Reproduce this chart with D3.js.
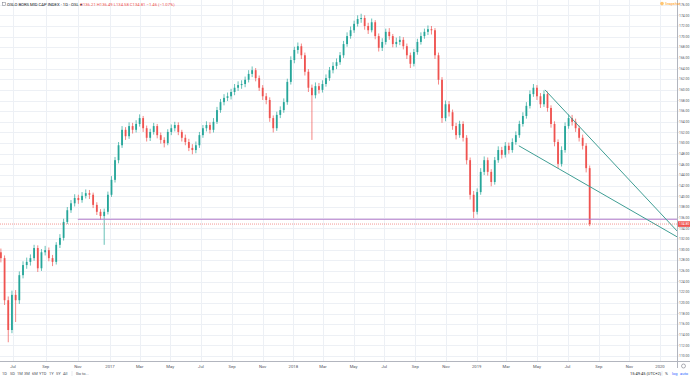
<!DOCTYPE html>
<html lang="en">
<head>
  <meta charset="UTF-8">
  <title>Oslo Bors Mid Cap Index - 1D</title>
  <style>
    html, body { margin: 0; padding: 0; background: #fff; overflow: hidden; }
    svg { display: block; font-family: Roboto, "Open Sans", sans-serif; }
  </style>
</head>
<body>
  <script src="https://d3js.org/d3.v7.min.js"></script>
  <script>
    const SVGWIDTH = 690;
    const SVGHEIGHT = 377;
    const PANE_RIGHT = 677;   // price axis starts here
    const PANE_BOTTOM = 361;  // time axis starts here
    const UP = '#26a69a';
    const DOWN = '#ef5350';

    // weekly bars, Monday of first and last week
    const firstWeek = '2016-06-06';
    const lastWeek = '2019-08-12';
    const firstOpen = 129.5;

    const closes = [
      128.4, 120.5, 114.9, 121.5, 120.5, 125.2, 127.1, 127.7, 128.4, 130.3,
      126.5, 129.5, 129.9, 128.4, 127.7, 130.9, 132.2, 135.2, 137.4, 138.7,
      139.7, 139.3, 140.1, 140.6, 140.3, 138.4, 137.1, 136.3, 137.1, 140.3,
      143.1, 146.8, 149.6, 152.5, 151.3, 153.2, 152.5, 153.6, 154.7, 152.8,
      151.0, 152.1, 153.2, 151.5, 150.6, 150.0, 152.1, 152.8, 153.4, 152.1,
      151.0, 150.2, 149.1, 148.7, 149.6, 151.5, 152.8, 153.4, 152.5, 154.0,
      156.2, 157.7, 158.5, 158.8, 159.6, 160.4, 160.9, 161.1, 161.9, 163.0,
      163.7, 162.2, 160.4, 158.8, 158.1, 154.7, 152.8, 155.3, 156.2, 157.7,
      161.5, 165.6, 167.5, 168.2, 166.5, 163.4, 160.4, 159.0, 160.7, 160.0,
      161.1, 162.2, 163.7, 164.5, 165.2, 166.5, 168.6, 170.1, 171.2, 172.4,
      173.3, 173.5, 172.0, 171.2, 172.7, 170.1, 167.9, 169.0, 170.9, 170.1,
      168.6, 169.0, 169.4, 168.2, 166.5, 164.9, 167.1, 169.0, 170.1, 170.9,
      171.4, 171.2, 166.5, 161.9, 154.7, 157.3, 155.8, 153.2, 151.5, 153.6,
      151.0, 146.8, 140.3, 137.1, 140.8, 144.6, 146.8, 144.6, 142.7, 146.8,
      148.7, 147.8, 149.5, 148.7, 150.2, 151.5, 153.6, 155.1, 157.0, 159.2,
      160.4, 158.8, 157.3, 159.2, 156.6, 153.6, 150.2, 146.1, 148.7, 153.2,
      154.7, 154.0, 152.8, 151.0, 149.5, 145.3, 134.8
    ];
    const highs = [
      130.2, 128.9, 121.2, 122.3, 122.4, 125.9, 127.8, 128.5, 129.1, 130.9,
      130.8, 130.1, 130.7, 130.4, 129.0, 131.4, 132.9, 135.8, 138.0, 139.3,
      140.4, 140.3, 140.8, 141.3, 141.2, 140.7, 138.9, 137.6, 137.7, 140.9,
      143.8, 147.4, 150.2, 153.2, 153.0, 153.9, 153.8, 154.3, 155.4, 155.1,
      153.3, 152.7, 153.8, 153.6, 152.0, 151.1, 152.6, 153.5, 154.0, 153.9,
      152.5, 151.6, 150.8, 149.8, 150.3, 152.1, 153.4, 154.1, 153.9, 154.7,
      156.8, 158.3, 159.2, 159.5, 160.2, 161.1, 161.6, 161.8, 162.5, 163.7,
      164.4, 164.1, 162.7, 160.9, 159.4, 158.6, 155.2, 155.9, 156.9, 158.4,
      162.1, 166.3, 168.1, 168.9, 168.7, 167.0, 163.9, 161.0, 161.4, 161.3,
      161.8, 162.9, 164.3, 165.2, 165.9, 167.1, 169.2, 170.8, 171.9, 173.0,
      174.0, 174.3, 174.0, 172.6, 173.4, 173.1, 170.6, 169.7, 171.5, 171.6,
      170.5, 169.8, 170.1, 169.9, 168.7, 167.0, 167.7, 169.6, 170.8, 171.5,
      172.1, 172.0, 171.6, 167.0, 162.4, 158.0, 157.9, 156.3, 153.8, 154.2,
      154.1, 151.5, 147.3, 141.0, 141.5, 145.3, 147.5, 147.3, 145.1, 147.4,
      149.4, 149.3, 150.2, 150.1, 150.9, 152.2, 154.2, 155.8, 157.7, 159.9,
      161.1, 160.9, 159.4, 159.9, 159.7, 157.1, 154.1, 150.7, 149.4, 153.9,
      155.4, 155.3, 154.6, 153.3, 151.6, 150.0, 145.8
    ];
    const lows = [
      127.6, 119.6, 112.6, 114.3, 116.4, 119.8, 124.6, 126.4, 127.0, 127.9,
      125.8, 126.0, 128.9, 127.8, 126.9, 127.2, 130.3, 131.7, 134.8, 136.9,
      138.1, 138.6, 138.8, 139.6, 139.5, 137.8, 136.5, 135.6, 130.9, 136.6,
      139.9, 142.6, 146.2, 149.1, 150.6, 150.8, 151.8, 152.0, 153.1, 152.1,
      150.3, 150.4, 151.6, 150.9, 149.9, 149.2, 149.6, 151.5, 152.2, 151.5,
      150.3, 149.6, 148.5, 147.9, 148.1, 149.1, 151.0, 152.2, 151.8, 152.0,
      153.6, 155.7, 157.1, 157.9, 158.2, 159.0, 159.8, 160.2, 160.5, 161.4,
      162.4, 161.6, 159.8, 158.1, 157.3, 154.0, 152.0, 152.3, 154.7, 155.7,
      157.2, 161.0, 165.0, 166.8, 165.8, 162.7, 159.6, 150.6, 158.4, 159.3,
      159.5, 160.6, 161.7, 163.1, 163.9, 164.7, 166.0, 168.1, 169.6, 170.7,
      171.9, 172.6, 171.3, 170.5, 170.8, 169.5, 167.2, 167.3, 168.5, 169.4,
      168.0, 168.0, 168.4, 167.6, 165.8, 164.1, 164.4, 166.6, 168.5, 169.6,
      170.3, 170.4, 165.8, 161.0, 153.8, 154.1, 155.0, 152.5, 150.7, 151.0,
      150.3, 146.0, 139.4, 135.9, 136.6, 140.3, 144.0, 143.9, 141.9, 142.2,
      146.3, 147.1, 147.3, 148.0, 148.2, 149.7, 151.0, 153.1, 154.6, 156.5,
      158.7, 158.1, 156.6, 156.8, 155.9, 152.9, 149.4, 145.3, 145.6, 148.2,
      152.7, 153.3, 152.1, 150.3, 148.8, 144.5, 134.4
    ];

    // drawings on the chart
    const supportLevel = 135.7;
    const supportFrom = '2016-11-01';
    const trendUpper = [['2019-05-17', 160.0], ['2020-02-04', 133.5]];
    const trendLower = [['2019-03-26', 149.5], ['2020-02-04', 132.4]];

    // axis ticks
    const yTicks = d3.range(110, 177, 2);
    const xTickStart = '2016-07-01';
    const xTickEnd = '2020-01-01';

    const headerTitle = 'OSLO BORS MID CAP INDEX · 1D · OSL ▾';
    const headerOHLC = 'O136.21 H136.49 L134.58 C134.81 −1.46 (−1.07%)';
    const rangeButtons = ['1D', '5D', '1M', '3M', '6M', 'YTD', '1Y', '5Y', 'All'];

    const parse = d3.timeParse('%Y-%m-%d');
    const weeks = d3.timeMonday.range(parse(firstWeek), d3.timeDay.offset(parse(lastWeek), 1));
    const bars = weeks.map((w, i) => ({
      date: d3.timeDay.offset(w, 2),
      open: i === 0 ? firstOpen : closes[i - 1],
      close: closes[i],
      high: highs[i],
      low: lows[i]
    }));

    // bar based time axis: the second half of 2016 is a bit wider than later years
    const xScale = d3.scaleTime()
      .domain([parse('2016-07-01'), parse('2017-01-01'), parse('2020-01-01')])
      .range([13, 110, 660]);
    const yScale = d3.scaleLinear()
      .domain([109.08, 176.88])
      .range([PANE_BOTTOM, 0]);

    const svg = d3.select('body').append('svg')
      .attr('width', SVGWIDTH)
      .attr('height', SVGHEIGHT)
      .attr('viewBox', `0 0 ${SVGWIDTH} ${SVGHEIGHT}`);

    svg.append('rect').attr('width', SVGWIDTH).attr('height', SVGHEIGHT).attr('fill', '#fff');

    const xTicks = d3.timeMonth.every(2).range(parse(xTickStart), d3.timeDay.offset(parse(xTickEnd), 1));
    const fmtTick = d => d.getMonth() === 0 ? d3.timeFormat('%Y')(d) : d3.timeFormat('%b')(d);

    // grid
    const grid = svg.append('g').attr('stroke', '#edf0f5').attr('stroke-width', 1);
    grid.selectAll('.hg').data(yTicks).enter().append('line')
      .attr('x1', 0).attr('x2', PANE_RIGHT)
      .attr('y1', d => Math.round(yScale(d)) + 0.5).attr('y2', d => Math.round(yScale(d)) + 0.5);
    grid.selectAll('.vg').data(xTicks).enter().append('line')
      .attr('y1', 0).attr('y2', PANE_BOTTOM)
      .attr('x1', d => Math.round(xScale(d)) + 0.5).attr('x2', d => Math.round(xScale(d)) + 0.5);

    const pane = svg.append('g');

    // candles
    const candle = pane.selectAll('.candle').data(bars).enter().append('g')
      .attr('class', 'candle')
      .attr('fill', d => d.close >= d.open ? UP : DOWN)
      .attr('stroke', d => d.close >= d.open ? UP : DOWN);
    candle.append('line')
      .attr('x1', d => xScale(d.date)).attr('x2', d => xScale(d.date))
      .attr('y1', d => yScale(d.high)).attr('y2', d => yScale(d.low))
      .attr('stroke-width', 0.7);
    candle.append('rect')
      .attr('stroke', 'none')
      .attr('x', d => xScale(d.date) - 0.9)
      .attr('width', 1.8)
      .attr('y', d => yScale(Math.max(d.open, d.close)))
      .attr('height', d => Math.max(0.8, Math.abs(yScale(d.open) - yScale(d.close))));

    // horizontal support line
    pane.append('line')
      .attr('x1', xScale(parse(supportFrom))).attr('x2', PANE_RIGHT)
      .attr('y1', yScale(supportLevel)).attr('y2', yScale(supportLevel))
      .attr('stroke', '#b47ccb').attr('stroke-width', 1);

    // trend lines
    const line = d3.line().x(d => xScale(parse(d[0]))).y(d => yScale(d[1]));
    [trendUpper, trendLower].forEach(t => {
      pane.append('path').attr('d', line(t))
        .attr('fill', 'none').attr('stroke', '#3f9e94').attr('stroke-width', 1);
    });

    // last price line
    const last = bars[bars.length - 1];
    pane.append('line')
      .attr('x1', 0).attr('x2', PANE_RIGHT)
      .attr('y1', yScale(last.close)).attr('y2', yScale(last.close))
      .attr('stroke', DOWN).attr('stroke-opacity', 0.6)
      .attr('stroke-width', 1).attr('stroke-dasharray', '1,1');

    // axis separators
    svg.append('line').attr('x1', PANE_RIGHT + 0.5).attr('x2', PANE_RIGHT + 0.5)
      .attr('y1', 0).attr('y2', PANE_BOTTOM + 7).attr('stroke', '#b2b5be');
    svg.append('line').attr('x1', 0).attr('x2', SVGWIDTH)
      .attr('y1', PANE_BOTTOM + 0.5).attr('y2', PANE_BOTTOM + 0.5).attr('stroke', '#b2b5be');

    // price axis
    const yAxis = svg.append('g').attr('font-size', 3.4).attr('fill', '#50535e');
    yAxis.selectAll('line').data(yTicks).enter().append('line')
      .attr('x1', PANE_RIGHT).attr('x2', PANE_RIGHT + 1.5)
      .attr('y1', d => yScale(d)).attr('y2', d => yScale(d))
      .attr('stroke', '#b2b5be').attr('stroke-width', 0.6);
    yAxis.selectAll('text').data(yTicks).enter().append('text')
      .attr('x', PANE_RIGHT + 2).attr('y', d => yScale(d) + 1.2)
      .text(d => d.toFixed(2));

    const priceTag = svg.append('g');
    priceTag.append('rect')
      .attr('x', PANE_RIGHT + 1).attr('y', yScale(last.close) - 2.8)
      .attr('width', 12).attr('height', 5.6).attr('fill', DOWN);
    priceTag.append('text')
      .attr('x', PANE_RIGHT + 2).attr('y', yScale(last.close) + 1.2)
      .attr('font-size', 3.4).attr('fill', '#fff')
      .text(last.close.toFixed(2));

    // time axis
    svg.append('g').attr('font-size', 4.2).attr('fill', '#50535e').attr('text-anchor', 'middle')
      .selectAll('text').data(xTicks).enter().append('text')
      .attr('x', d => xScale(d)).attr('y', PANE_BOTTOM + 6.5)
      .text(fmtTick);

    // settings icon in the corner
    svg.append('circle').attr('cx', 683.5).attr('cy', 366).attr('r', 2)
      .attr('fill', 'none').attr('stroke', '#787b86').attr('stroke-width', 0.6);

    // header
    const header = svg.append('g').attr('font-size', 4.2);
    header.append('rect').attr('x', 2.5).attr('y', 2.5).attr('width', 3).attr('height', 3)
      .attr('fill', 'none').attr('stroke', '#787b86').attr('stroke-width', 0.5);
    header.append('text').attr('x', 7).attr('y', 5.6).attr('fill', '#131722').text(headerTitle);
    header.append('text').attr('x', 80).attr('y', 5.6).attr('fill', DOWN).text(headerOHLC);

    svg.append('circle').attr('cx', 662).attr('cy', 3.6).attr('r', 1.8)
      .attr('fill', '#ffb74d').attr('opacity', 0.8);
    svg.append('text').attr('x', 665).attr('y', 5).attr('font-size', 3.6)
      .attr('fill', '#ff9800').text('Snapshot');

    // bottom toolbar
    const toolbar = svg.append('g').attr('font-size', 4).attr('fill', '#50535e');
    const btnX = [2, 10, 17, 24, 32, 39, 49, 56, 63];
    toolbar.selectAll('.btn').data(rangeButtons).enter().append('text')
      .attr('x', (d, i) => btnX[i]).attr('y', 375).text(d => d);
    toolbar.append('line').attr('x1', 72).attr('x2', 72).attr('y1', 371).attr('y2', 376)
      .attr('stroke', '#d1d4dc').attr('stroke-width', 0.5);
    toolbar.append('text').attr('x', 76).attr('y', 375).text('Go to...');
    toolbar.append('text').attr('x', 630).attr('y', 375).attr('fill', '#131722').text('15:49:45 (UTC+2)');
    toolbar.append('line').attr('x1', 662).attr('x2', 662).attr('y1', 371).attr('y2', 376)
      .attr('stroke', '#d1d4dc').attr('stroke-width', 0.5);
    toolbar.append('text').attr('x', 665).attr('y', 375).text('%');
    toolbar.append('text').attr('x', 672).attr('y', 375).attr('fill', '#2962ff').text('log');
    toolbar.append('text').attr('x', 680).attr('y', 375).attr('fill', '#2962ff').text('auto');
  </script>
</body>
</html>
